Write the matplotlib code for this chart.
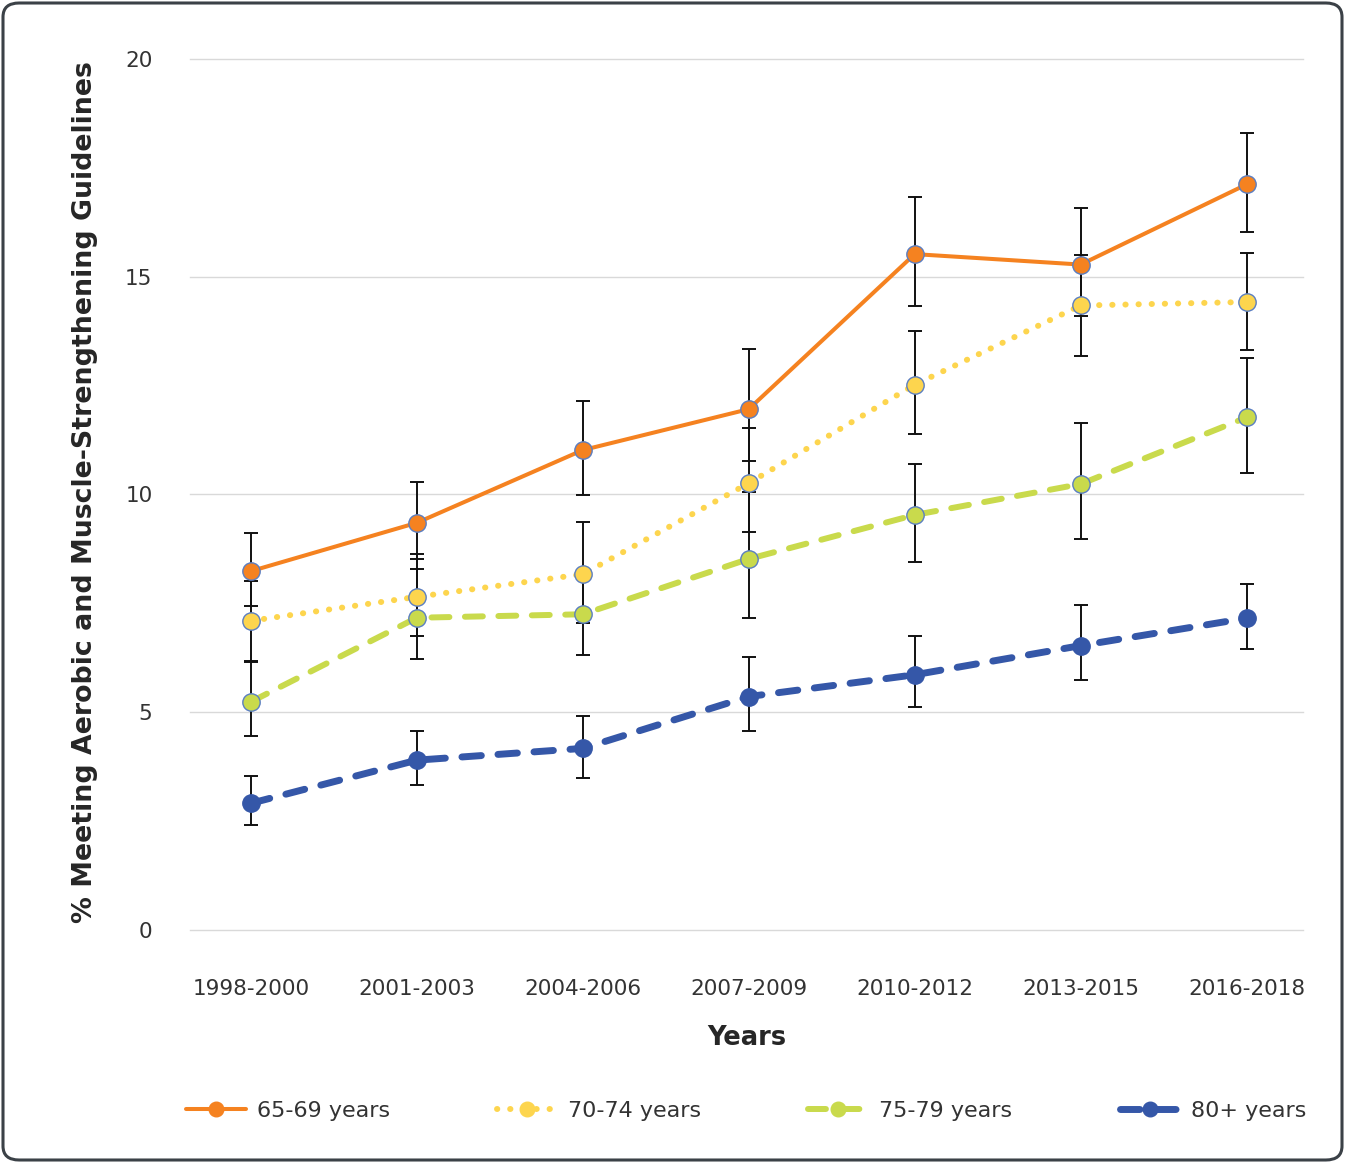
import matplotlib
matplotlib.use("Agg")
import matplotlib.pyplot as plt
from matplotlib.patches import FancyBboxPatch
from matplotlib.lines import Line2D
import numpy as np

periods = ["1998-2000", "2001-2003", "2004-2006", "2007-2009", "2010-2012", "2013-2015", "2016-2018"]
series_names = ["65-69 years", "70-74 years", "75-79 years", "80+ years"]

v65 = [8.24, 9.35, 11.02, 11.96, 15.52, 15.28, 17.12]
v65_lo = [7.45, 8.53, 9.98, 10.77, 14.33, 14.10, 16.03]
v65_hi = [9.12, 10.29, 12.15, 13.34, 16.82, 16.59, 18.30]

v70 = [7.10, 7.65, 8.17, 10.26, 12.52, 14.34, 14.42]
v70_lo = [6.18, 6.74, 7.06, 9.15, 11.38, 13.19, 13.31]
v70_hi = [8.02, 8.64, 9.38, 11.52, 13.75, 15.51, 15.54]

v75 = [5.24, 7.17, 7.25, 8.52, 9.53, 10.24, 11.77]
v75_lo = [4.45, 6.23, 6.31, 7.17, 8.46, 8.97, 10.50]
v75_hi = [6.15, 8.28, 8.20, 10.06, 10.70, 11.65, 13.14]

v80 = [2.91, 3.90, 4.17, 5.36, 5.86, 6.53, 7.16]
v80_lo = [2.40, 3.34, 3.49, 4.57, 5.11, 5.74, 6.45]
v80_hi = [3.54, 4.58, 4.92, 6.27, 6.76, 7.47, 7.94]

y_ticks = [0, 5, 10, 15, 20]

colors = ["#F58220", "#FDD54E", "#C9DA4C", "#3557A8"]
edge = "#5A7EC2"

W, H = 1345, 1163
fig = plt.figure(figsize=(W / 100, H / 100), dpi=100)
ax = fig.add_axes([190 / W, 1 - 930 / H, (1303 - 190) / W, (930 - 59) / H])

x = np.arange(len(periods))

data = [(v65, v65_lo, v65_hi), (v70, v70_lo, v70_hi), (v75, v75_lo, v75_hi), (v80, v80_lo, v80_hi)]
styles = [
    dict(lw=2.9, ls="-"),
    dict(lw=4.3, ls=(0, (0.05, 2.15))),
    dict(lw=4.3, ls=(0, (3.0, 2.6))),
    dict(lw=5.0, ls=(0, (2.8, 2.4))),
]

for i, (vals, lo, hi) in enumerate(data):
    vals = np.array(vals); lo = np.array(lo); hi = np.array(hi)
    ax.errorbar(x, vals, yerr=[vals - lo, hi - vals], fmt="none", ecolor="#111111",
                elinewidth=1.4, capsize=4.8, capthick=1.4, zorder=2)

handles = []
for i, (vals, lo, hi) in enumerate(data):
    st = styles[i]
    ax.plot(x, vals, color=colors[i], lw=st["lw"], linestyle=st["ls"],
            dash_capstyle="round", solid_capstyle="round", zorder=3)
    ec = edge if i < 3 else colors[i]
    ax.plot(x, vals, linestyle="none", marker="o", markersize=12.5,
            markerfacecolor=colors[i], markeredgecolor=ec, markeredgewidth=1.0, zorder=4)
    handles.append(Line2D([0], [0], color=colors[i], lw=st["lw"], linestyle=st["ls"],
                          dash_capstyle="round", solid_capstyle="round",
                          marker="o", markersize=10.5, markerfacecolor=colors[i],
                          markeredgecolor=colors[i]))

ax.set_xlim(-0.367, 6.34)
ax.set_ylim(0, 20)
ax.set_yticks(y_ticks)
ax.set_xticks(x)
ax.set_xticklabels(periods)
ax.grid(axis="y", color="#D9D9D9", lw=1.0)
for gl in ax.yaxis.get_gridlines():
    gl.set_clip_on(False)
ax.set_axisbelow(True)
for s in ax.spines.values():
    s.set_visible(False)
ax.tick_params(axis="both", length=0, labelsize=15.5, colors="#333333")
ax.tick_params(axis="y", pad=27)
ax.tick_params(axis="x", pad=35)

ax.set_xlabel("Years", fontsize=18.5, fontweight="bold", color="#262626", labelpad=19)
ax.set_ylabel("% Meeting Aerobic and Muscle-Strengthening Guidelines", fontsize=19.3,
              fontweight="bold", color="#262626")
ax.yaxis.set_label_coords(-92 / (1303 - 190), (930 - 492) / (930 - 59))

leg = fig.legend(handles, series_names, loc="lower left", ncol=4, mode="expand",
                 bbox_to_anchor=(186 / W, 1 - 1121 / H, (1306 - 186) / W, 0.001), frameon=False,
                 fontsize=16, handlelength=2.7, handletextpad=0.5,
                 borderpad=0, borderaxespad=0, labelcolor="#333333")

border = FancyBboxPatch((3 / W, 3 / H), (W - 6) / W, (H - 6) / H,
                        boxstyle="round,pad=0,rounding_size=0.012",
                        transform=fig.transFigure, fill=False,
                        edgecolor="#3B4147", lw=2.2)
fig.patches.append(border)

fig.savefig("out.png", dpi=100)
